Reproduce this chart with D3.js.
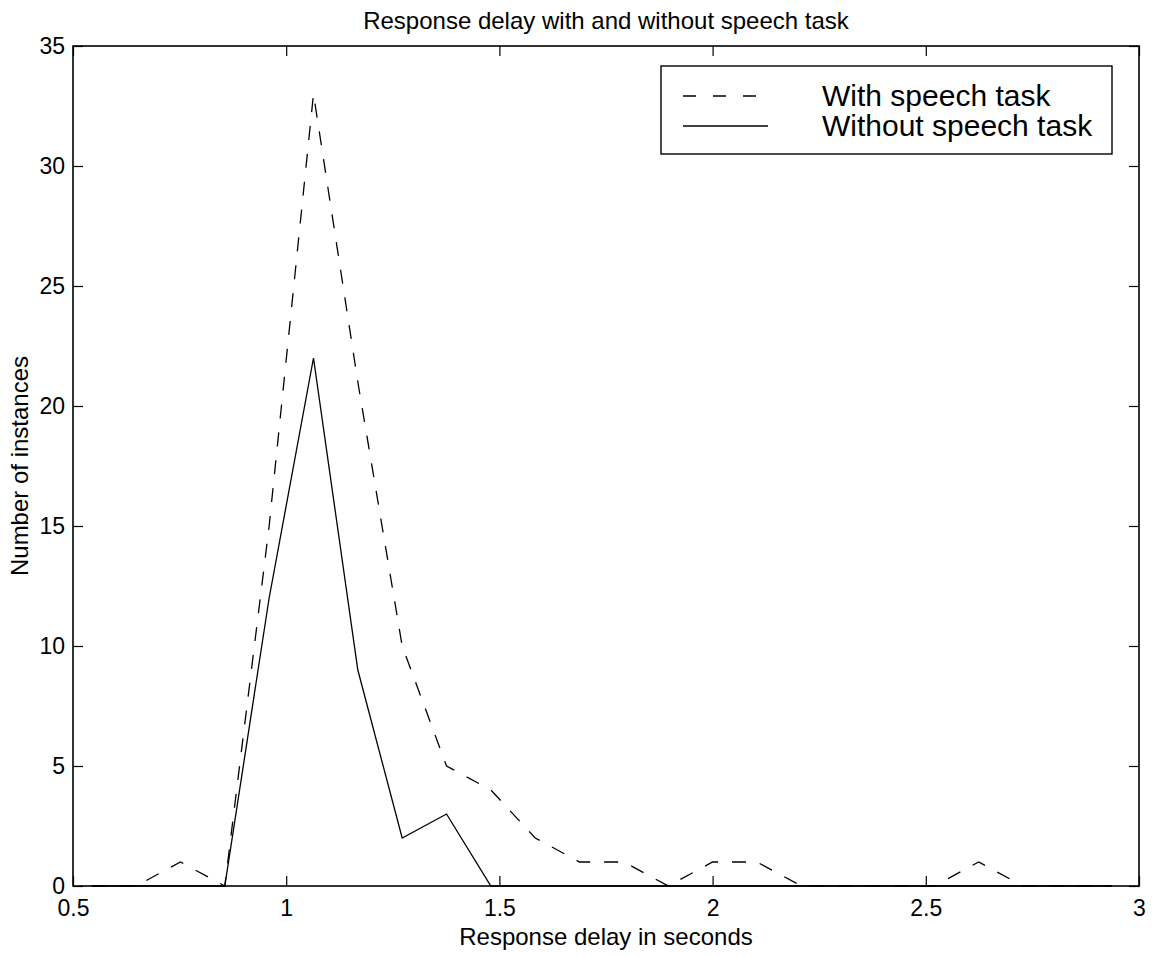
<!DOCTYPE html>
<html>
<head>
<meta charset="utf-8">
<script src="https://cdn.jsdelivr.net/npm/d3@7/dist/d3.min.js"></script>
<style>
  html, body { margin: 0; padding: 0; background: #fff; }
  svg { display: block; }
  text { font-family: "Liberation Sans", Arial, Helvetica, sans-serif; fill: #000; }
</style>
</head>
<body>
<svg id="chart" width="1156" height="956"></svg>
<script>
// Histogram bin centres (seconds) and counts per bin
const delays = [0.544, 0.648, 0.752, 0.856, 0.960, 1.064, 1.168, 1.272, 1.376, 1.480, 1.584, 1.688,
                1.792, 1.896, 2.000, 2.104, 2.208, 2.312, 2.416, 2.520, 2.624, 2.728, 2.832, 2.936];
const withSpeech    = [0, 0, 1, 0, 15, 33, 21, 10, 5, 4, 2, 1, 1, 0, 1, 1, 0, 0, 0, 0, 1, 0, 0, 0];
const withoutSpeech = [0, 0, 0, 0, 12, 22, 9, 2, 3, 0, 0, 0, 0, 0, 0, 0, 0, 0, 0, 0, 0, 0, 0, 0];

const xTicks = [0.5, 1, 1.5, 2, 2.5, 3];
const yTicks = [0, 5, 10, 15, 20, 25, 30, 35];
const seriesNames = ["With speech task", "Without speech task"];
const titleText = "Response delay with and without speech task";
const xLabelText = "Response delay in seconds";
const yLabelText = "Number of instances";

(function draw() {
  const svg = d3.select("#chart");
  const pl = 73, pr = 1139, pt = 46, pb = 886;

  const x = d3.scaleLinear().domain([0.5, 3]).range([pl, pr]);
  const y = d3.scaleLinear().domain([0, 35]).range([pb, pt]);

  const tickFmt = d => String(d);

  // Axes with inward ticks on all four sides
  const gx = svg.append("g").attr("transform", `translate(0,${pb})`)
    .call(d3.axisBottom(x).tickValues(xTicks).tickFormat(tickFmt).tickSize(-10).tickSizeOuter(0).tickPadding(14));
  const gy = svg.append("g").attr("transform", `translate(${pl},0)`)
    .call(d3.axisLeft(y).tickValues(yTicks).tickFormat(tickFmt).tickSize(-10).tickSizeOuter(0).tickPadding(8));
  const gt = svg.append("g").attr("transform", `translate(0,${pt})`)
    .call(d3.axisTop(x).tickValues(xTicks).tickFormat("").tickSize(-10).tickSizeOuter(0));
  const gr = svg.append("g").attr("transform", `translate(${pr},0)`)
    .call(d3.axisRight(y).tickValues(yTicks).tickFormat("").tickSize(-10).tickSizeOuter(0));

  [gx, gy, gt, gr].forEach(g => {
    g.select(".domain").remove();
    g.selectAll(".tick line").attr("stroke", "#000").attr("stroke-width", 1.2);
    g.selectAll(".tick text").attr("font-size", 23)
      .attr("font-family", "Liberation Sans, Arial, sans-serif").attr("fill", "#000");
  });

  // Data lines
  const pts = vals => vals.map((v, i) => [delays[i], v]);
  const line = d3.line().x(d => x(d[0])).y(d => y(d[1]));

  svg.append("path").datum(pts(withSpeech))
    .attr("d", line).attr("fill", "none").attr("stroke", "#000")
    .attr("stroke-width", 1.3).attr("stroke-dasharray", "14,14");
  svg.append("path").datum(pts(withoutSpeech))
    .attr("d", line).attr("fill", "none").attr("stroke", "#000")
    .attr("stroke-width", 1.3);

  // Plot box
  svg.append("rect").attr("x", pl).attr("y", pt)
    .attr("width", pr - pl).attr("height", pb - pt)
    .attr("fill", "none").attr("stroke", "#000").attr("stroke-width", 1.6);

  // Title and axis labels
  svg.append("text").attr("x", (pl + pr) / 2).attr("y", 29)
    .attr("text-anchor", "middle").attr("font-size", 24).text(titleText);
  svg.append("text").attr("x", (pl + pr) / 2).attr("y", 945)
    .attr("text-anchor", "middle").attr("font-size", 24).text(xLabelText);
  svg.append("text").attr("transform", `translate(28,${(pt + pb) / 2}) rotate(-90)`)
    .attr("text-anchor", "middle").attr("font-size", 24).text(yLabelText);

  // Legend
  const lg = svg.append("g");
  lg.append("rect").attr("x", 661).attr("y", 66).attr("width", 451).attr("height", 88)
    .attr("fill", "#fff").attr("stroke", "#000").attr("stroke-width", 1.4);
  const dashes = ["13,17", null];
  seriesNames.forEach((name, i) => {
    const yy = 96 + i * 30;
    const ln = lg.append("line").attr("x1", 683).attr("x2", 768).attr("y1", yy).attr("y2", yy)
      .attr("stroke", "#000").attr("stroke-width", 1.3);
    if (dashes[i]) ln.attr("stroke-dasharray", dashes[i]);
    lg.append("text").attr("x", 822).attr("y", yy + 10).attr("font-size", 30).text(name);
  });
})();
</script>
</body>
</html>
